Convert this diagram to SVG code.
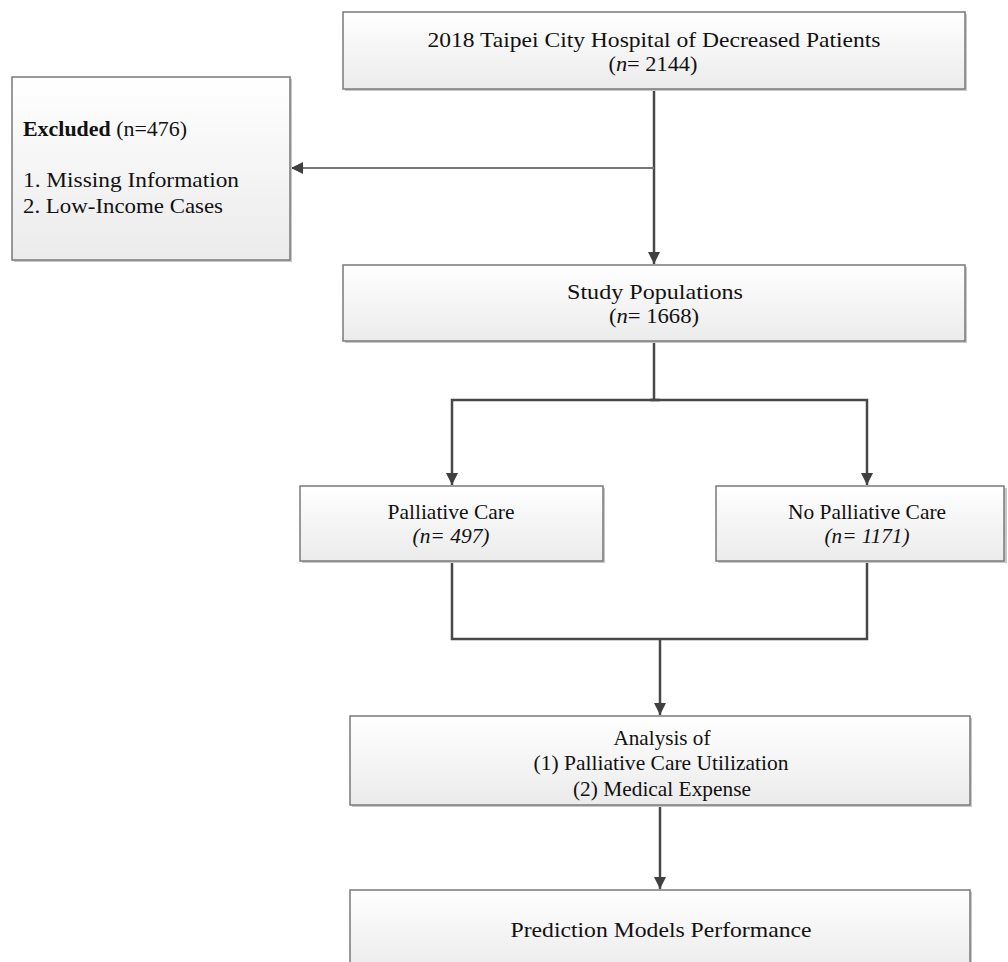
<svg xmlns="http://www.w3.org/2000/svg" width="1008" height="962" viewBox="0 0 1008 962">
<defs>
<linearGradient id="g" x1="0" y1="0" x2="0" y2="1">
<stop offset="0" stop-color="#ffffff"/>
<stop offset="1" stop-color="#ebebeb"/>
</linearGradient>
<marker id="ah" viewBox="0 0 10 10" refX="10" refY="5" markerWidth="5" markerHeight="5" markerUnits="strokeWidth" orient="auto">
<path d="M0,0 L10,5 L0,10 z" fill="#404040"/>
</marker>
<marker id="ahs" viewBox="0 0 10 10" refX="10" refY="5" markerWidth="6" markerHeight="6" markerUnits="strokeWidth" orient="auto">
<path d="M0,0 L10,5 L0,10 z" fill="#404040"/>
</marker>
</defs>
<style>
.box{fill:url(#g);stroke:#7a7a7a;stroke-width:1.5}
.sh{fill:#c8c8c8}
.t{font-family:"Liberation Serif","Times New Roman",serif;font-size:22px;fill:#111;text-anchor:middle}
.tl{font-family:"Liberation Serif","Times New Roman",serif;font-size:22px;fill:#111}
.c{fill:none;stroke:#484848;stroke-width:2.5}
.cl{fill:none;stroke:#777;stroke-width:2}
</style>
<rect width="1008" height="962" fill="#ffffff"/>
<g id="connectors">
<path class="c" d="M654,89 V264" marker-end="url(#ah)"/>
<path class="cl" d="M654,168 H291" marker-end="url(#ahs)"/>
<path class="c" d="M654,341 V400"/>
<path class="c" d="M660,400 H452 V485" marker-end="url(#ah)"/>
<path class="c" d="M650,400 H867 V485" marker-end="url(#ah)"/>
<path class="c" d="M452,561 V639 H867 V561"/>
<path class="c" d="M660,639 V715" marker-end="url(#ah)"/>
<path class="c" d="M660,805 V889" marker-end="url(#ah)"/>
</g>
<g id="top">
<rect class="sh" x="345" y="14" width="622" height="77"/>
<rect class="box" x="343" y="12" width="622" height="77"/>
<text class="t" x="654" y="47" textLength="453" lengthAdjust="spacingAndGlyphs">2018 Taipei City Hospital of Decreased Patients</text>
<text class="t" x="653" y="71" textLength="89" lengthAdjust="spacingAndGlyphs">(<tspan font-style="italic">n</tspan>= 2144)</text>
</g>
<g id="excluded">
<rect class="sh" x="14" y="79" width="278" height="183"/>
<rect class="box" x="12" y="77" width="278" height="183"/>
<text class="tl" x="23" y="136" textLength="164" lengthAdjust="spacingAndGlyphs"><tspan font-weight="bold">Excluded</tspan> (n=476)</text>
<text class="tl" x="23" y="187" textLength="216" lengthAdjust="spacingAndGlyphs">1. Missing Information</text>
<text class="tl" x="23" y="213" textLength="200" lengthAdjust="spacingAndGlyphs">2. Low-Income Cases</text>
</g>
<g id="study">
<rect class="sh" x="345" y="267" width="622" height="76"/>
<rect class="box" x="343" y="265" width="622" height="76"/>
<text class="t" x="655" y="299" textLength="176" lengthAdjust="spacingAndGlyphs">Study Populations</text>
<text class="t" x="654" y="323" textLength="90" lengthAdjust="spacingAndGlyphs">(<tspan font-style="italic">n</tspan>= 1668)</text>
</g>
<g id="palliative">
<rect class="sh" x="302" y="488" width="303" height="75"/>
<rect class="box" x="300" y="486" width="303" height="75"/>
<text class="t" x="451" y="519" textLength="127" lengthAdjust="spacingAndGlyphs">Palliative Care</text>
<text class="t" x="451" y="543" font-style="italic" textLength="77" lengthAdjust="spacingAndGlyphs">(n= 497)</text>
</g>
<g id="nopalliative">
<rect class="sh" x="718" y="488" width="289" height="75"/>
<rect class="box" x="716" y="486" width="288" height="75"/>
<text class="t" x="867" y="519" textLength="158" lengthAdjust="spacingAndGlyphs">No Palliative Care</text>
<text class="t" x="867" y="543" font-style="italic" textLength="85" lengthAdjust="spacingAndGlyphs">(n= 1171)</text>
</g>
<g id="analysis">
<rect class="sh" x="352" y="718" width="620" height="89"/>
<rect class="box" x="350" y="716" width="620" height="89"/>
<text class="t" x="662" y="745" textLength="97" lengthAdjust="spacingAndGlyphs">Analysis of</text>
<text class="t" x="661" y="770" textLength="255" lengthAdjust="spacingAndGlyphs">(1) Palliative Care Utilization</text>
<text class="t" x="662" y="796" textLength="178" lengthAdjust="spacingAndGlyphs">(2) Medical Expense</text>
</g>
<g id="prediction">
<rect class="sh" x="352" y="892" width="620" height="80"/>
<rect class="box" x="350" y="890" width="620" height="80"/>
<text class="t" x="661" y="937" textLength="301" lengthAdjust="spacingAndGlyphs">Prediction Models Performance</text>
</g>
</svg>
